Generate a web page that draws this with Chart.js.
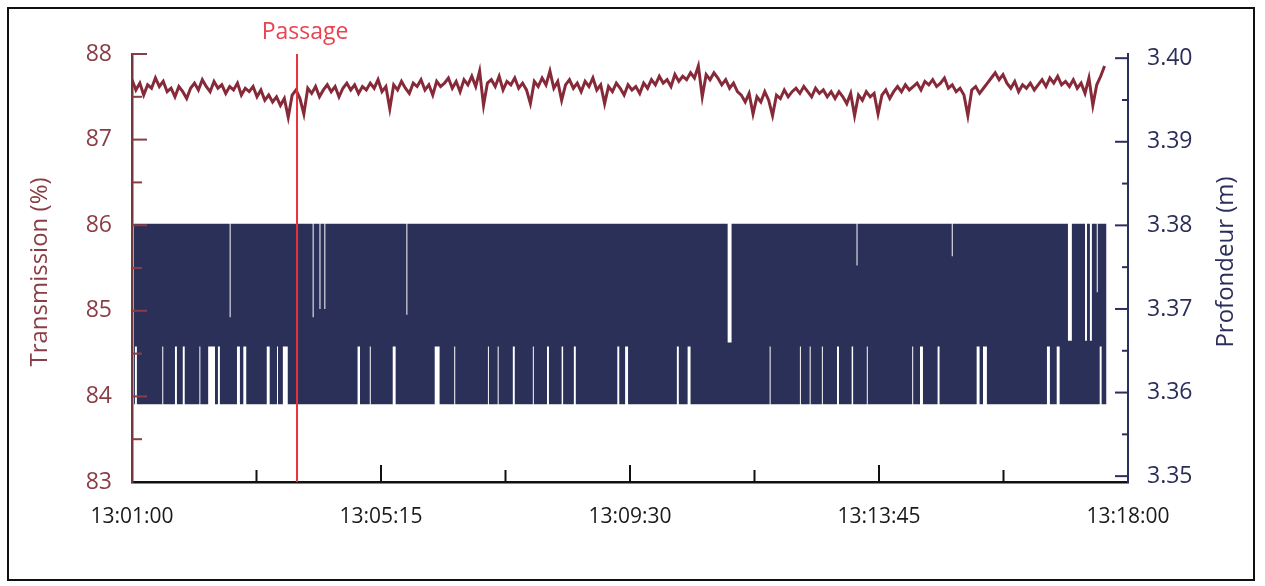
<!DOCTYPE html>
<html>
<head>
<meta charset="utf-8">
<script src="https://cdn.jsdelivr.net/npm/chart.js@4.4.1/dist/chart.umd.min.js"></script>
<style>
  html, body { margin: 0; padding: 0; background: #fff; }
  #wrap { position: relative; width: 1265px; height: 586px; }
  #frame { position: absolute; left: 7px; top: 7px; width: 1244px; height: 570px; border: 2px solid #111; }
  canvas { position: absolute; left: 0; top: 0; }
</style>
</head>
<body>
<div id="wrap">
  <div id="frame"></div>
  <canvas id="chart" width="1265" height="586"></canvas>
</div>
<script>
// seconds after 13:01:00
const startClock = 13 * 3600 + 60;
const timeTicks = [0, 255, 510, 765, 1020];
const depthTicks = [3.35, 3.36, 3.37, 3.38, 3.39, 3.40];
const passageTime = 169;

// transmission (%), one reading every 4 s
const transStep = 4;
const transmission = [
  87.70, 87.58, 87.66, 87.52, 87.64, 87.60, 87.72, 87.62, 87.68, 87.56,
  87.60, 87.50, 87.62, 87.56, 87.48, 87.60, 87.66, 87.58, 87.70, 87.62,
  87.56, 87.68, 87.60, 87.64, 87.54, 87.62, 87.58, 87.66, 87.52, 87.60,
  87.56, 87.62, 87.50, 87.58, 87.46, 87.52, 87.44, 87.50, 87.40, 87.48,
  87.26, 87.52, 87.58, 87.48, 87.30, 87.60, 87.54, 87.62, 87.50, 87.58,
  87.64, 87.56, 87.62, 87.50, 87.60, 87.66, 87.58, 87.64, 87.54, 87.62,
  87.58, 87.66, 87.60, 87.70, 87.56, 87.62, 87.36, 87.64, 87.58, 87.68,
  87.60, 87.54, 87.66, 87.62, 87.70, 87.58, 87.64, 87.52, 87.68, 87.62,
  87.66, 87.72, 87.60, 87.68, 87.56, 87.70, 87.64, 87.74, 87.62, 87.80,
  87.40, 87.66, 87.70, 87.62, 87.74, 87.58, 87.68, 87.64, 87.72, 87.60,
  87.66, 87.58, 87.42, 87.68, 87.62, 87.72, 87.64, 87.80, 87.60, 87.68,
  87.46, 87.64, 87.70, 87.60, 87.66, 87.56, 87.68, 87.62, 87.72, 87.58,
  87.64, 87.42, 87.62, 87.56, 87.66, 87.60, 87.52, 87.64, 87.58, 87.62,
  87.54, 87.66, 87.60, 87.70, 87.64, 87.74, 87.66, 87.70, 87.62, 87.76,
  87.68, 87.74, 87.70, 87.78, 87.72, 87.86, 87.50, 87.76, 87.70, 87.78,
  87.72, 87.64, 87.70, 87.60, 87.66, 87.56, 87.52, 87.44, 87.54, 87.30,
  87.50, 87.44, 87.56, 87.46, 87.28, 87.52, 87.48, 87.58, 87.50, 87.56,
  87.60, 87.54, 87.62, 87.56, 87.50, 87.60, 87.54, 87.58, 87.50, 87.56,
  87.48, 87.56, 87.50, 87.42, 87.54, 87.28, 87.52, 87.46, 87.56, 87.50,
  87.54, 87.30, 87.52, 87.58, 87.48, 87.56, 87.62, 87.56, 87.64, 87.58,
  87.62, 87.66, 87.58, 87.68, 87.64, 87.70, 87.62, 87.66, 87.72, 87.60,
  87.64, 87.56, 87.60, 87.52, 87.28, 87.58, 87.62, 87.54, 87.60, 87.66,
  87.72, 87.78, 87.70, 87.76, 87.66, 87.60, 87.68, 87.56, 87.64, 87.60,
  87.66, 87.58, 87.64, 87.70, 87.62, 87.72, 87.66, 87.74, 87.64, 87.68,
  87.62, 87.70, 87.60, 87.66, 87.54, 87.72, 87.40, 87.64, 87.74, 87.86
];

// depth (m): sensor flips between two levels; band is its envelope
const depthStart = 2, depthEnd = 998;
const depthTop = 3.3802, depthBottom = 3.3586;
// intervals where the envelope is narrower (white gaps)
const gapStart = [3, 31, 44, 52, 69, 78, 88, 100, 107.5, 114, 138, 148.5, 154.5, 185, 192, 197,
  231, 243.5, 267, 281, 310, 330, 364.5, 374.5, 390, 410.5, 425, 440, 452.5, 497, 505, 558, 569,
  610, 653, 684, 694, 706.5, 722, 737, 742, 752.5, 799, 807, 825, 839.5, 865, 871.5, 937, 947,
  958.5, 976, 981, 988, 991];
const gapEnd = [5, 32, 46, 54, 70, 85, 90, 101, 110.5, 117, 141, 149.5, 159.5, 186, 193, 198,
  233.5, 244.5, 270, 282, 315, 331, 365.5, 375.5, 392, 411.5, 427, 441.5, 454.5, 499, 508, 560, 572,
  614, 654, 685, 695, 707.5, 724, 738.5, 743, 753.5, 800, 810, 827, 840.5, 868, 875.5, 940, 950,
  962.5, 978, 983, 989, 993];
const gapTop = [3.3802, 3.3802, 3.3802, 3.3802, 3.3802, 3.3802, 3.3802, 3.369, 3.3802, 3.3802,
  3.3802, 3.3802, 3.3802, 3.369, 3.370, 3.370, 3.3802, 3.3802, 3.3802, 3.3693, 3.3802, 3.3802,
  3.3802, 3.3802, 3.3802, 3.3802, 3.3802, 3.3802, 3.3802, 3.3802, 3.3802, 3.3802, 3.3802,
  3.3660, 3.3802, 3.3802, 3.3802, 3.3802, 3.3802, 3.3802, 3.3752, 3.3802, 3.3802, 3.3802, 3.3802,
  3.3763, 3.3802, 3.3802, 3.3802, 3.3802, 3.3662, 3.3662, 3.3662, 3.372, 3.3802];
const gapBottom = [3.3655, 3.3655, 3.3655, 3.3655, 3.3655, 3.3655, 3.3655, 3.3586, 3.3655, 3.3655,
  3.3655, 3.3655, 3.3655, 3.3586, 3.3586, 3.3586, 3.3655, 3.3655, 3.3655, 3.3586, 3.3655, 3.3655,
  3.3655, 3.3655, 3.3655, 3.3655, 3.3655, 3.3655, 3.3655, 3.3655, 3.3655, 3.3655, 3.3655,
  3.3586, 3.3655, 3.3655, 3.3655, 3.3655, 3.3655, 3.3655, 3.3586, 3.3655, 3.3655, 3.3655, 3.3655,
  3.3586, 3.3655, 3.3655, 3.3655, 3.3655, 3.3586, 3.3586, 3.3586, 3.3586, 3.3655];

const brown = "#8a3d44";
const navy = "#2b2e5a";
const fontFamily = '"Open Sans", "DejaVu Sans", sans-serif';

const transData = transmission.map((v, i) => ({ x: i * transStep, y: v }));
const highPts = [{ x: depthStart, y: depthTop }];
const lowPts = [{ x: depthStart, y: depthBottom }];
gapStart.forEach((t, i) => {
  highPts.push({ x: t, y: gapTop[i] });
  lowPts.push({ x: t, y: gapBottom[i] });
  highPts.push({ x: gapEnd[i], y: depthTop });
  lowPts.push({ x: gapEnd[i], y: depthBottom });
});
highPts.push({ x: depthEnd, y: depthTop });
lowPts.push({ x: depthEnd, y: depthBottom });

function clock(v) {
  const s = startClock + Math.round(v);
  const p = (n) => String(n).padStart(2, "0");
  return p(Math.floor(s / 3600)) + ":" + p(Math.floor(s / 60) % 60) + ":" + p(s % 60);
}

// ticks point into the plot, titles both read upwards, passage marker
const decorations = {
  id: "decorations",
  afterDatasetsDraw(chart) {
    const { ctx, chartArea: a, scales } = chart;
    const { x, y, y1 } = scales;
    ctx.save();
    ctx.lineWidth = 2;

    ctx.strokeStyle = brown;
    for (let v = y.min; v <= y.max + 1e-9; v += 0.5) {
      if (v === y.min) continue;
      const py = y.getPixelForValue(v);
      const len = Number.isInteger(v) ? 15 : 10;
      ctx.beginPath(); ctx.moveTo(a.left, py); ctx.lineTo(a.left + len, py); ctx.stroke();
    }
    ctx.strokeStyle = navy;
    for (let k = 0; k <= 10; k++) {
      const v = depthTicks[0] + k * 0.005;
      const py = y1.getPixelForValue(v);
      const len = k % 2 === 0 ? 13 : 6;
      ctx.beginPath(); ctx.moveTo(a.right, py); ctx.lineTo(a.right - len, py); ctx.stroke();
    }
    ctx.strokeStyle = "#111";
    for (let k = 1; k < 8; k++) {
      const px = x.getPixelForValue(k * 127.5);
      const len = k % 2 === 0 ? 17 : 12;
      ctx.beginPath(); ctx.moveTo(px, a.bottom); ctx.lineTo(px, a.bottom - len); ctx.stroke();
    }

    const px = x.getPixelForValue(passageTime);
    ctx.strokeStyle = "#e8323c";
    ctx.lineWidth = 2;
    ctx.beginPath(); ctx.moveTo(px, y.getPixelForValue(88)); ctx.lineTo(px, a.bottom); ctx.stroke();
    ctx.fillStyle = "#e8434f";
    ctx.font = "23px " + fontFamily;
    ctx.textAlign = "center";
    ctx.textBaseline = "middle";
    ctx.fillText("Passage", px + 8, 32);

    ctx.font = "24px " + fontFamily;
    ctx.fillStyle = brown;
    ctx.translate(40, 272);
    ctx.rotate(-Math.PI / 2);
    ctx.fillText("Transmission (%)", 0, 0);
    ctx.restore();

    ctx.save();
    ctx.font = "24px " + fontFamily;
    ctx.fillStyle = navy;
    ctx.textAlign = "center";
    ctx.textBaseline = "middle";
    ctx.translate(1226, 262);
    ctx.rotate(-Math.PI / 2);
    ctx.fillText("Profondeur (m)", 0, 0);
    ctx.restore();
  }
};

new Chart(document.getElementById("chart"), {
  type: "line",
  data: {
    datasets: [
      {
        label: "Profondeur max",
        data: highPts,
        yAxisID: "y1",
        stepped: true,
        borderWidth: 0,
        pointRadius: 0,
        fill: false,
      },
      {
        label: "Profondeur min",
        data: lowPts,
        yAxisID: "y1",
        stepped: true,
        borderWidth: 0,
        pointRadius: 0,
        backgroundColor: "#2b3059",
        fill: "-1",
      },
      {
        label: "Transmission",
        data: transData,
        yAxisID: "y",
        borderColor: "#862a3a",
        borderWidth: 3,
        tension: 0,
        pointRadius: 0,
        fill: false,
      },
    ],
  },
  options: {
    responsive: false,
    animation: false,
    devicePixelRatio: 1,
    layout: { padding: { top: 54, left: 0, right: 0, bottom: 0 } },
    plugins: { legend: { display: false }, tooltip: { enabled: false } },
    scales: {
      x: {
        type: "linear",
        min: 0,
        max: 1020,
        afterBuildTicks: (scale) => { scale.ticks = timeTicks.map((v) => ({ value: v })); },
        afterFit: (scale) => { scale.height = 104; },
        ticks: {
          callback: (v) => clock(v),
          color: "#1a1a1a",
          padding: 22,
          maxRotation: 0,
          autoSkip: false,
          font: { family: fontFamily, size: 21 },
        },
        grid: { drawOnChartArea: false, drawTicks: false },
        border: { display: true, color: "#111", width: 2.5 },
      },
      y: {
        position: "left",
        min: 83,
        max: 88,
        afterFit: (scale) => { scale.width = 132; },
        ticks: {
          stepSize: 1,
          color: brown,
          padding: 20,
          font: { family: fontFamily, size: 23 },
        },
        grid: { drawOnChartArea: false, drawTicks: false },
        border: { display: true, color: "#6e3a3e", width: 2.5 },
      },
      y1: {
        position: "right",
        // the depth axis sits a few pixels higher than the transmission axis
        min: 3.3493,
        max: 3.4005,
        afterBuildTicks: (scale) => { scale.ticks = depthTicks.map((v) => ({ value: v })); },
        afterFit: (scale) => { scale.width = 137; },
        ticks: {
          color: navy,
          padding: 19,
          callback: (v) => Number(v).toFixed(2),
          font: { family: fontFamily, size: 23 },
        },
        grid: { drawOnChartArea: false, drawTicks: false },
        border: { display: true, color: navy, width: 2 },
      },
    },
  },
  plugins: [decorations],
});
</script>
</body>
</html>
